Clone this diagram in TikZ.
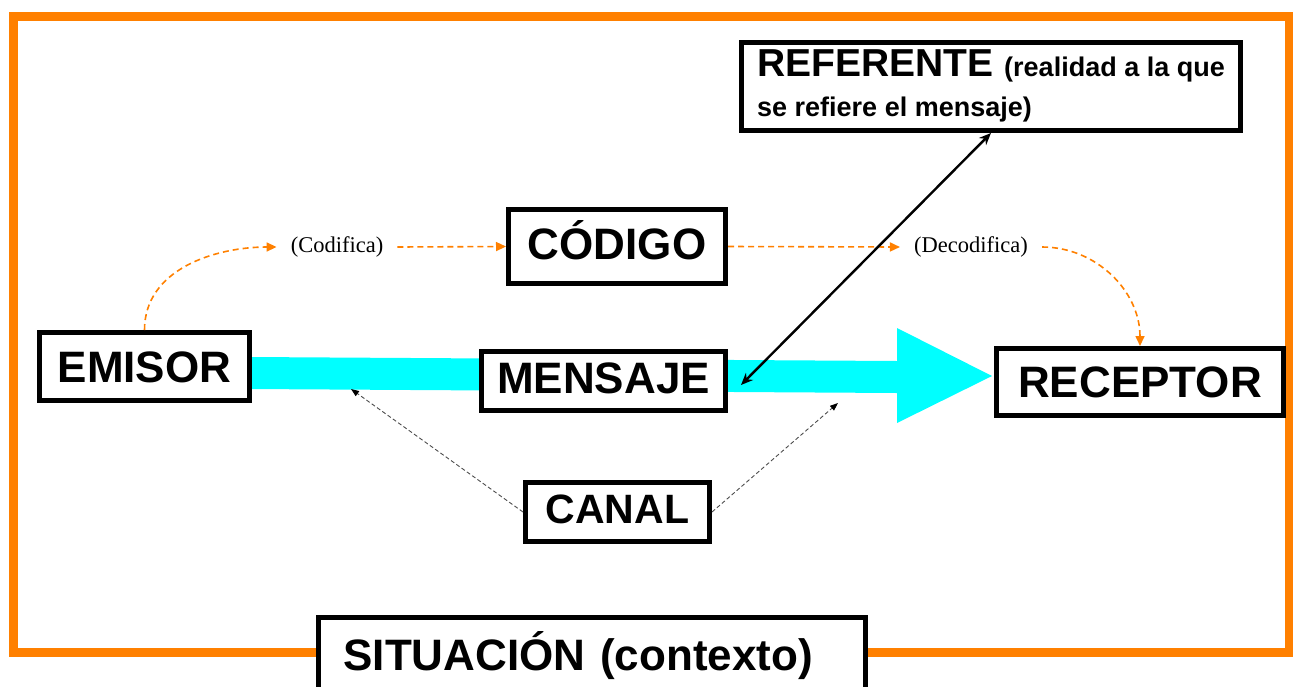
\documentclass[tikz,border=0pt]{standalone}
\usepackage{fontspec}
\setmainfont{Liberation Sans}
\newfontfamily\notefont{Liberation Serif}
\usepackage{tikz}
\usetikzlibrary{calc}
\usetikzlibrary{arrows.meta}

\definecolor{frameorange}{RGB}{255, 128, 0}
\definecolor{bandcyan}{RGB}{0, 255, 255}

\begin{document}
\begin{tikzpicture}[x = 1pt, y = -1pt,
		boxed/.style = {draw, fill = white, line width = 5pt, inner sep = 0pt},
		bigword/.style = {boxed, text height = 31.5pt, text depth = 0pt, font = \bfseries\fontsize{44}{48}\selectfont},
		note/.style = {inner xsep = 14pt, inner ysep = 0pt, font = \notefont\fontsize{22.5}{26}\selectfont},
		codeline/.style = {frameorange, line width = 1.6pt, dash pattern = on 6pt off 4pt, -{Triangle[length = 10pt, width = 9pt]}},
		chanline/.style = {black!70, line width = 0.9pt, dash pattern = on 4pt off 2.5pt, -{Triangle[length = 8pt, width = 6pt, black]}},
		refline/.style = {black, line width = 2.4pt, {Stealth[length = 12pt, width = 10pt]}-{Stealth[length = 12pt, width = 10pt]}}]
	\useasboundingbox (0, 0) rectangle (1293, 686);
	\clip (0, 0) rectangle (1293, 686);

	\draw[frameorange, line width = 9pt] (13.5, 16.5) rectangle (1289.5, 652.5);
	\fill[bandcyan] (250, 357)--(897, 361)--(897, 328)--(992, 376)--(897, 423)--(897, 393)--(250, 389)--cycle;

	\node[bigword, minimum width = 210pt, minimum height = 68pt] (emisor) at (144.5, 366.5) {EMISOR};
	\node[bigword, minimum width = 217pt, minimum height = 74pt, text depth = 5pt] (codigo) at (617, 246.5) {CÓDIGO};
	\node[bigword, minimum width = 244pt, minimum height = 59pt, text depth = 7pt] (mensaje) at (603.5, 381) {MENSAJE};
	\node[bigword, minimum width = 184pt, minimum height = 59pt, text height = 29.4pt, text depth = 6pt, font = \bfseries\fontsize{41}{44}\selectfont] (canal) at (617.5, 512) {CANAL};
	\node[bigword, minimum width = 287pt, minimum height = 67pt] (receptor) at (1140, 382) {RECEPTOR};
	\node[boxed, minimum width = 499pt, minimum height = 88pt, align = left, font = \bfseries\fontsize{27}{36}\selectfont] (referente) at (991, 86.5) {{\fontsize{39}{40}\selectfont REFERENTE }(realidad a la que\\[4pt]se refiere el mensaje)\rule[-6pt]{0pt}{1pt}};
	\node[boxed, anchor = north, text width = 497pt, inner xsep = 25pt, align = left, text height = 53.5pt, text depth = 60pt, font = \bfseries\fontsize{44}{48}\selectfont] (situacion) at (592, 614.5) {SITUACIÓN (contexto)};

	\node[note] (codifica) at (337, 247) {(Codifica)};
	\node[note] (decodifica) at (971, 247) {(Decodifica)};

	\draw[codeline] (emisor.north) to[out = 90, in = 180] (codifica.west);
	\draw[codeline] (codifica.east)--(codigo.west);
	\draw[codeline] (codigo.east)--(decodifica.west);
	\draw[codeline] (decodifica.east) to[out = 0, in = 90] (receptor.north);

	\coordinate[](msgtip) at (741, 385);
	\draw[refline] (referente.south)--(msgtip);

	\coordinate[](bandleft) at (351, 389);
	\coordinate[](bandright) at (838, 403);
	\draw[chanline] (canal.west)--(bandleft);
	\draw[chanline] (canal.east)--(bandright);
\end{tikzpicture}
\end{document}
